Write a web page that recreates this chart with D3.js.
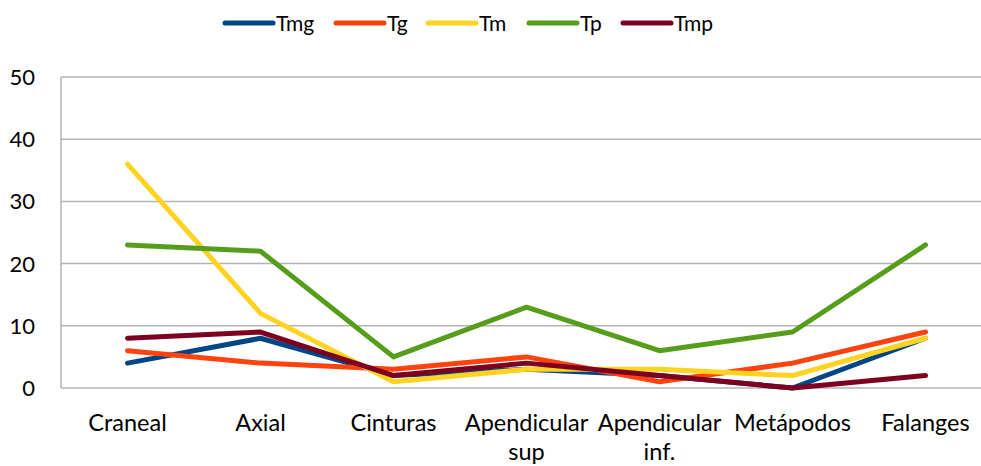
<!DOCTYPE html>
<html><head><meta charset="utf-8">
<script src="https://cdn.jsdelivr.net/npm/d3@7"></script>
<style>body{margin:0;background:#fff;}svg{display:block;font-family:Lato,"Open Sans",sans-serif;}</style>
</head><body>
<svg id="c" width="981" height="466"></svg>
<script>
const categories = [["Craneal"],["Axial"],["Cinturas"],["Apendicular","sup"],["Apendicular","inf."],["Metápodos"],["Falanges"]];
const seriesNames = ["Tmg","Tg","Tm","Tp","Tmp"];
const Tmg = [4, 8, 2, 3, 2, 0, 8];
const Tg  = [6, 4, 3, 5, 1, 4, 9];
const Tm  = [36, 12, 1, 3, 3, 2, 8];
const Tp  = [23, 22, 5, 13, 6, 9, 23];
const Tmp = [8, 9, 2, 4, 2, 0, 2];
const yTicks = [0, 10, 20, 30, 40, 50];
const colors = ["#004586", "#ff420e", "#ffd320", "#579d1c", "#7e0021"];
const seriesValues = [Tmg, Tg, Tm, Tp, Tmp];

(function(){
const svg = d3.select("#c");
const pL = 61, pR = 992, pT = 77, pB = 388;
const x = d3.scaleBand().domain(d3.range(categories.length)).range([pL, pR]);
const y = d3.scaleLinear().domain([0, 50]).range([pB, pT]);

svg.append("g").selectAll("line").data(yTicks).join("line")
  .attr("x1", pL).attr("x2", pR)
  .attr("y1", d => y(d)).attr("y2", d => y(d))
  .attr("stroke", "#b3b3b3").attr("stroke-width", 1.5);
svg.append("line").attr("x1", pL).attr("x2", pL).attr("y1", pT).attr("y2", pB)
  .attr("stroke", "#b3b3b3").attr("stroke-width", 1.5);
svg.append("g").selectAll("text").data(yTicks).join("text")
  .attr("x", 35).attr("y", d => y(d) + 8)
  .attr("text-anchor", "end").attr("font-size", 22).attr("fill", "#000")
  .text(d => d);
const xl = svg.append("g").selectAll("text").data(categories).join("text")
  .attr("x", (d, i) => x(i) + x.bandwidth() / 2).attr("y", 431)
  .attr("text-anchor", "middle").attr("font-size", 23.5).attr("fill", "#000");
xl.selectAll("tspan").data(d => d).join("tspan")
  .attr("x", function() { return d3.select(this.parentNode).attr("x"); })
  .attr("dy", (d, i) => i === 0 ? 0 : 29)
  .text(d => d);

const line = d3.line().x((d, i) => x(i) + x.bandwidth() / 2).y(d => y(d));
svg.append("g").selectAll("path").data(seriesValues).join("path")
  .attr("d", d => line(d)).attr("fill", "none")
  .attr("stroke", (d, i) => colors[i]).attr("stroke-width", 5)
  .attr("stroke-linecap", "round").attr("stroke-linejoin", "round");

const legX = [225, 336, 428, 529, 623];
const lg = svg.append("g").selectAll("g").data(seriesNames).join("g")
  .attr("transform", (d, i) => `translate(${legX[i]},23)`);
lg.append("line").attr("x1", 0).attr("x2", 48).attr("y1", 0).attr("y2", 0)
  .attr("stroke", (d, i) => colors[i]).attr("stroke-width", 5).attr("stroke-linecap", "round");
lg.append("text").attr("x", 51).attr("y", 7.5)
  .attr("font-size", 21).attr("fill", "#000").text(d => d);
})();
</script>
</body></html>
